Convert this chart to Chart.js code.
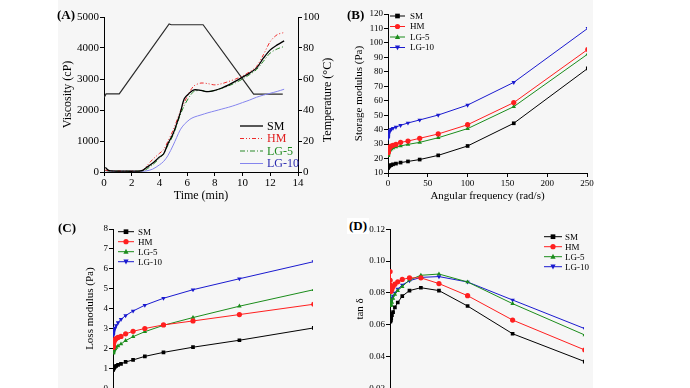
<!DOCTYPE html>
<html>
<head>
<meta charset="utf-8">
<script src="https://cdn.jsdelivr.net/npm/chart.js@4/dist/chart.umd.min.js"></script>
<style>
  html, body { margin: 0; padding: 0; background: #fff; }
  #wrap { position: relative; width: 690px; height: 388px; overflow: hidden; background: #fff; }
  #paper { position: absolute; left: 58px; top: 0; width: 535px; height: 388px; background: #f6f6f6; }
  canvas { position: absolute; }
  .tag { position: absolute; font: bold 13px "Liberation Serif", serif; color: #000; }
</style>
</head>
<body>
<div id="wrap">
  <div id="paper"></div>
  <canvas id="chartA" width="345" height="205" style="left:0;top:0"></canvas>
  <canvas id="chartB" width="345" height="205" style="left:345px;top:0"></canvas>
  <canvas id="chartC" width="345" height="240" style="left:0;top:200px"></canvas>
  <canvas id="chartD" width="345" height="240" style="left:345px;top:200px"></canvas>
  <div class="tag" style="left:57px;top:7px">(A)</div>
  <div class="tag" style="left:347px;top:7px">(B)</div>
  <div class="tag" style="left:58px;top:220px">(C)</div>
  <div class="tag" style="left:347px;top:218px;background:#fff;padding:0 2px">(D)</div>
</div>
<script>
// ---- data ----
const seriesNames = ['SM', 'HM', 'LG-5', 'LG-10'];

// (A) RVA pasting curves
const timeMin = [0.1, 0.3, 0.5, 1, 1.5, 2, 2.5, 2.8, 3, 3.5, 4, 4.3, 4.6, 5, 5.5, 5.8, 6.2, 6.5, 7, 7.5, 8, 8.5, 9, 9.5, 10, 10.5, 11, 11.5, 12, 12.5, 13];
const viscSM   = [150, 60, 35, 30, 28, 25, 30, 50, 120, 280, 480, 580, 900, 1250, 1900, 2370, 2560, 2650, 2630, 2590, 2630, 2710, 2810, 2930, 3060, 3190, 3350, 3670, 3940, 4100, 4230];
const viscHM   = [60, 40, 35, 30, 28, 25, 30, 60, 150, 400, 600, 720, 980, 1360, 1950, 2250, 2600, 2780, 2870, 2850, 2810, 2850, 2920, 3000, 3100, 3230, 3400, 3780, 4210, 4430, 4500];
const viscLG5  = [50, 35, 30, 28, 26, 24, 28, 40, 70, 230, 440, 600, 850, 1200, 1840, 2150, 2450, 2600, 2630, 2600, 2630, 2700, 2780, 2880, 3000, 3140, 3300, 3570, 3840, 3970, 4050];
const viscLG10 = [40, 30, 28, 25, 24, 22, 22, 25, 30, 90, 230, 340, 520, 870, 1360, 1540, 1700, 1770, 1840, 1910, 1970, 2030, 2090, 2160, 2240, 2320, 2410, 2480, 2540, 2600, 2670];
const tempTime = [0, 0.15, 1.1, 4.7, 4.85, 7.15, 10.8, 12.9];
const tempC    = [48, 50.4, 50.4, 95.5, 95, 95, 50.2, 50.2];

// (B)-(D) frequency sweep
const freq = [0.1, 0.158, 0.251, 0.398, 0.631, 1, 1.58, 2.51, 3.98, 6.31, 10, 15.8, 25.1, 39.8, 63.1, 100, 158, 251];
const storSM   = [13.5, 13.8, 14.0, 14.2, 14.4, 14.6, 14.9, 15.2, 15.5, 16.0, 16.5, 17.2, 18.0, 19.3, 22.2, 28.7, 44.4, 82.4];
const storHM   = [24, 24.5, 25, 25.6, 26.2, 26.8, 27.4, 28, 28.6, 29.2, 29.8, 31.2, 32.1, 34, 37, 43.4, 58.7, 95.5];
const storLG5  = [22, 22.5, 23, 23.6, 24.2, 24.8, 25.4, 26, 26.7, 27.3, 28, 28.7, 29.8, 31.2, 34.4, 40.7, 55.9, 92.3];
const storLG10 = [34, 34.7, 35.4, 36.2, 37, 37.8, 38.6, 39.4, 40.2, 41, 41.8, 43, 44.6, 46.7, 50.1, 57, 72.7, 110.1];

const lossSM   = [0.92, 0.94, 0.96, 0.98, 1.0, 1.02, 1.05, 1.08, 1.12, 1.17, 1.22, 1.32, 1.42, 1.6, 1.8, 2.06, 2.41, 3.03];
const lossHM   = [2.05, 2.1, 2.15, 2.2, 2.26, 2.32, 2.38, 2.44, 2.5, 2.55, 2.6, 2.73, 2.86, 3.0, 3.18, 3.38, 3.7, 4.22];
const lossLG5  = [1.76, 1.78, 1.8, 1.82, 1.85, 1.89, 1.93, 1.98, 2.05, 2.12, 2.22, 2.39, 2.59, 2.84, 3.16, 3.55, 4.12, 4.95];
const lossLG10 = [2.65, 2.68, 2.72, 2.77, 2.82, 2.88, 2.95, 3.02, 3.15, 3.3, 3.46, 3.65, 3.88, 4.17, 4.52, 4.95, 5.5, 6.36];

const tanSM   = [0.067, 0.065, 0.063, 0.062, 0.0625, 0.063, 0.064, 0.066, 0.068, 0.071, 0.074, 0.078, 0.0815, 0.0833, 0.0815, 0.0718, 0.0544, 0.0369];
const tanHM   = [0.0935, 0.088, 0.085, 0.083, 0.0815, 0.081, 0.0815, 0.0825, 0.084, 0.0855, 0.087, 0.0885, 0.0895, 0.0895, 0.0859, 0.0783, 0.063, 0.0442];
const tanLG5  = [0.089, 0.085, 0.08, 0.076, 0.073, 0.072, 0.0725, 0.074, 0.0765, 0.079, 0.0815, 0.084, 0.0882, 0.0911, 0.0919, 0.0869, 0.0733, 0.0536];
const tanLG10 = [0.084, 0.08, 0.077, 0.075, 0.074, 0.074, 0.075, 0.0765, 0.078, 0.08, 0.0825, 0.085, 0.0877, 0.0898, 0.0903, 0.0869, 0.0756, 0.0576];

const ticksA = [0, 2, 4, 6, 8, 10, 12, 14];

// ---- styling ----
const SERIF = '"Liberation Serif", "Times New Roman", serif';
const markColors = ['#000000', '#ff1f1f', '#1b8c1b', '#1a1acf'];
const markStyles = [['rect', 0], ['circle', 0], ['triangle', 0], ['triangle', 180]];

function pts(xs, ys) {
  return xs.map((x, i) => ({ x: x, y: ys[i] }));
}

function drawMarker(ctx, style, rot, x, y, r) {
  ctx.save();
  ctx.translate(x, y);
  ctx.rotate(rot * Math.PI / 180);
  ctx.beginPath();
  if (style === 'rect') {
    ctx.rect(-r * 0.9, -r * 0.9, r * 1.8, r * 1.8);
  } else if (style === 'circle') {
    ctx.arc(0, 0, r, 0, Math.PI * 2);
  } else {
    ctx.moveTo(0, -r * 1.1);
    ctx.lineTo(r, r * 0.8);
    ctx.lineTo(-r, r * 0.8);
    ctx.closePath();
  }
  ctx.fill();
  ctx.restore();
}

// legend drawn at fixed spots inside the plot, like the original figure
const panelLegend = {
  id: 'panelLegend',
  afterDraw(chart, args, opts) {
    if (!opts || opts.x === undefined) return;
    const ctx = chart.ctx;
    ctx.save();
    ctx.font = opts.font;
    ctx.textBaseline = 'middle';
    chart.data.datasets.forEach((ds, i) => {
      if (!ds.label) return;
      const y = opts.y + i * opts.dy;
      ctx.strokeStyle = ds.borderColor;
      ctx.lineWidth = ds.borderWidth;
      ctx.setLineDash(ds.borderDash || []);
      ctx.beginPath();
      ctx.moveTo(opts.x, y);
      ctx.lineTo(opts.x + opts.len, y);
      ctx.stroke();
      ctx.setLineDash([]);
      if (ds.pointStyle) {
        ctx.fillStyle = ds.borderColor;
        drawMarker(ctx, ds.pointStyle, ds.pointRotation || 0, opts.x + opts.len / 2, y, 2.6);
      }
      ctx.fillStyle = opts.textColors ? opts.textColors[i] : '#000';
      ctx.fillText(ds.label, opts.x + opts.len + opts.gap, y + 0.5);
    });
    ctx.restore();
  }
};

// right-hand title reading bottom to top
const sideTitle = {
  id: 'sideTitle',
  afterDraw(chart, args, opts) {
    if (!opts || !opts.text) return;
    const ctx = chart.ctx;
    ctx.save();
    ctx.translate(opts.x, opts.y);
    ctx.rotate(-Math.PI / 2);
    ctx.font = opts.font;
    ctx.fillStyle = '#000';
    ctx.textAlign = 'center';
    ctx.textBaseline = 'middle';
    ctx.fillText(opts.text, 0, 0);
    ctx.restore();
  }
};

function fixW(w) { return function (scale) { scale.width = w; }; }
function fixH(h) { return function (scale) { scale.height = h; }; }

function axis(extra) {
  const base = {
    type: 'linear',
    border: { display: true, color: '#000', width: 1 },
    grid: { display: true, drawOnChartArea: false, drawTicks: true, tickLength: 4, color: '#000' },
    ticks: { color: '#000', padding: 1, font: { family: SERIF, size: 9 } },
    title: { display: true, color: '#000', padding: 0, font: { family: SERIF, size: 11 } }
  };
  return Object.assign(base, extra, {
    ticks: Object.assign({}, base.ticks, extra.ticks || {}),
    title: Object.assign({}, base.title, extra.title || {}),
    grid: Object.assign({}, base.grid, extra.grid || {})
  });
}

function sweepSets(arrays) {
  return arrays.map((arr, i) => ({
    label: seriesNames[i],
    data: pts(freq, arr),
    borderColor: markColors[i],
    backgroundColor: markColors[i],
    borderWidth: 1,
    pointStyle: markStyles[i][0],
    pointRotation: markStyles[i][1],
    pointRadius: 2.6,
    pointBorderWidth: 0,
    tension: 0
  }));
}

const common = {
  responsive: false,
  animation: false,
  devicePixelRatio: 1,
  events: []
};

const plain = (v) => String(v);

// ---- (A) ----
new Chart(document.getElementById('chartA'), {
  type: 'line',
  data: {
    datasets: [
      { label: 'SM', data: pts(timeMin, viscSM), borderColor: '#000000', borderWidth: 1.3, pointRadius: 0, yAxisID: 'y', tension: 0.3 },
      { label: 'HM', data: pts(timeMin, viscHM), borderColor: '#ee2a2a', borderWidth: 1, borderDash: [4, 2, 1, 2, 1, 2], pointRadius: 0, yAxisID: 'y', tension: 0.3 },
      { label: 'LG-5', data: pts(timeMin, viscLG5), borderColor: '#2a8a2a', borderWidth: 1, borderDash: [5, 2, 1, 2], pointRadius: 0, yAxisID: 'y', tension: 0.3 },
      { label: 'LG-10', data: pts(timeMin, viscLG10), borderColor: '#8585ee', borderWidth: 1, pointRadius: 0, yAxisID: 'y', tension: 0.3 },
      { label: null, data: pts(tempTime, tempC), borderColor: '#2a2a2a', borderWidth: 1.2, pointRadius: 0, yAxisID: 'y2', tension: 0 }
    ]
  },
  options: Object.assign({}, common, {
    layout: { padding: { left: 61, right: 11, top: 17, bottom: 2 } },
    plugins: {
      legend: { display: false }, tooltip: { enabled: false },
      panelLegend: { x: 240, y: 126, dy: 12.5, len: 23, gap: 4, textColors: ['#000', '#e02020', '#1f8a1f', '#2a2ab0'], font: '12px ' + SERIF },
      sideTitle: { text: 'Temperature (\u00B0C)', x: 328, y: 100, font: '12px ' + SERIF }
    },
    scales: {
      x: axis({
        min: 0, max: 14, afterFit: fixH(31),
        afterBuildTicks: (s) => { s.ticks = ticksA.map(v => ({ value: v })); },
        ticks: { font: { family: SERIF, size: 11 } },
        title: { text: 'Time (min)', font: { family: SERIF, size: 12 } }
      }),
      y: axis({
        position: 'left', min: 0, max: 5000, afterFit: fixW(43),
        ticks: { stepSize: 1000, callback: plain, font: { family: SERIF, size: 11 } },
        title: { text: 'Viscosity (cP)', font: { family: SERIF, size: 12 } }
      }),
      y2: axis({
        position: 'right', min: 0, max: 100, afterFit: fixW(36),
        ticks: { stepSize: 20, callback: plain, font: { family: SERIF, size: 11 } },
        title: { display: false }
      })
    }
  }),
  plugins: [panelLegend, sideTitle]
});

// ---- (B) ----
new Chart(document.getElementById('chartB'), {
  type: 'line',
  data: { datasets: sweepSets([storSM, storHM, storLG5, storLG10]) },
  options: Object.assign({}, common, {
    layout: { padding: { left: 8, right: 103, top: 14, bottom: 2.5 } },
    plugins: {
      legend: { display: false }, tooltip: { enabled: false },
      panelLegend: { x: 45, y: 16, dy: 10.5, len: 15, gap: 5, font: '9px ' + SERIF }
    },
    scales: {
      x: axis({
        min: 0, max: 250, afterFit: fixH(29.5),
        ticks: { stepSize: 50 },
        title: { text: 'Angular frequency (rad/s)', font: { family: SERIF, size: 11 } }
      }),
      y: axis({
        min: 10, max: 120, afterFit: fixW(35),
        ticks: { stepSize: 10 },
        title: { text: 'Storage modulus (Pa)', font: { family: SERIF, size: 11 } }
      })
    }
  }),
  plugins: [panelLegend]
});

// ---- (C) ----
new Chart(document.getElementById('chartC'), {
  type: 'line',
  data: { datasets: sweepSets([lossSM, lossHM, lossLG5, lossLG10]) },
  options: Object.assign({}, common, {
    layout: { padding: { left: 84, right: 32, top: 29, bottom: 0 } },
    plugins: {
      legend: { display: false }, tooltip: { enabled: false },
      panelLegend: { x: 118, y: 31.7, dy: 10, len: 16, gap: 4, font: '9px ' + SERIF }
    },
    scales: {
      x: axis({
        min: 0, max: 250, afterFit: fixH(51.8),
        ticks: { stepSize: 50 },
        title: { text: 'Angular frequency (rad/s)' }
      }),
      y: axis({
        min: 0, max: 8, afterFit: fixW(29),
        ticks: { stepSize: 1 },
        title: { text: 'Loss modulus (Pa)', font: { family: SERIF, size: 11 } }
      })
    }
  }),
  plugins: [panelLegend]
});

// ---- (D) ----
new Chart(document.getElementById('chartD'), {
  type: 'line',
  data: { datasets: sweepSets([tanSM, tanHM, tanLG5, tanLG10]) },
  options: Object.assign({}, common, {
    layout: { padding: { left: 9, right: 106, top: 29.3, bottom: 0 } },
    plugins: {
      legend: { display: false }, tooltip: { enabled: false },
      panelLegend: { x: 199, y: 36.7, dy: 10, len: 18, gap: 3, font: '9px ' + SERIF }
    },
    scales: {
      x: axis({
        min: 0, max: 250, afterFit: fixH(51.5),
        ticks: { stepSize: 50 },
        title: { text: 'Angular frequency (rad/s)' }
      }),
      y: axis({
        min: 0.02, max: 0.12, afterFit: fixW(36),
        ticks: { stepSize: 0.02, callback: (v) => v.toFixed(2) },
        title: { text: 'tan \u03B4', font: { family: SERIF, size: 11 } }
      })
    }
  }),
  plugins: [panelLegend]
});
</script>
</body>
</html>
